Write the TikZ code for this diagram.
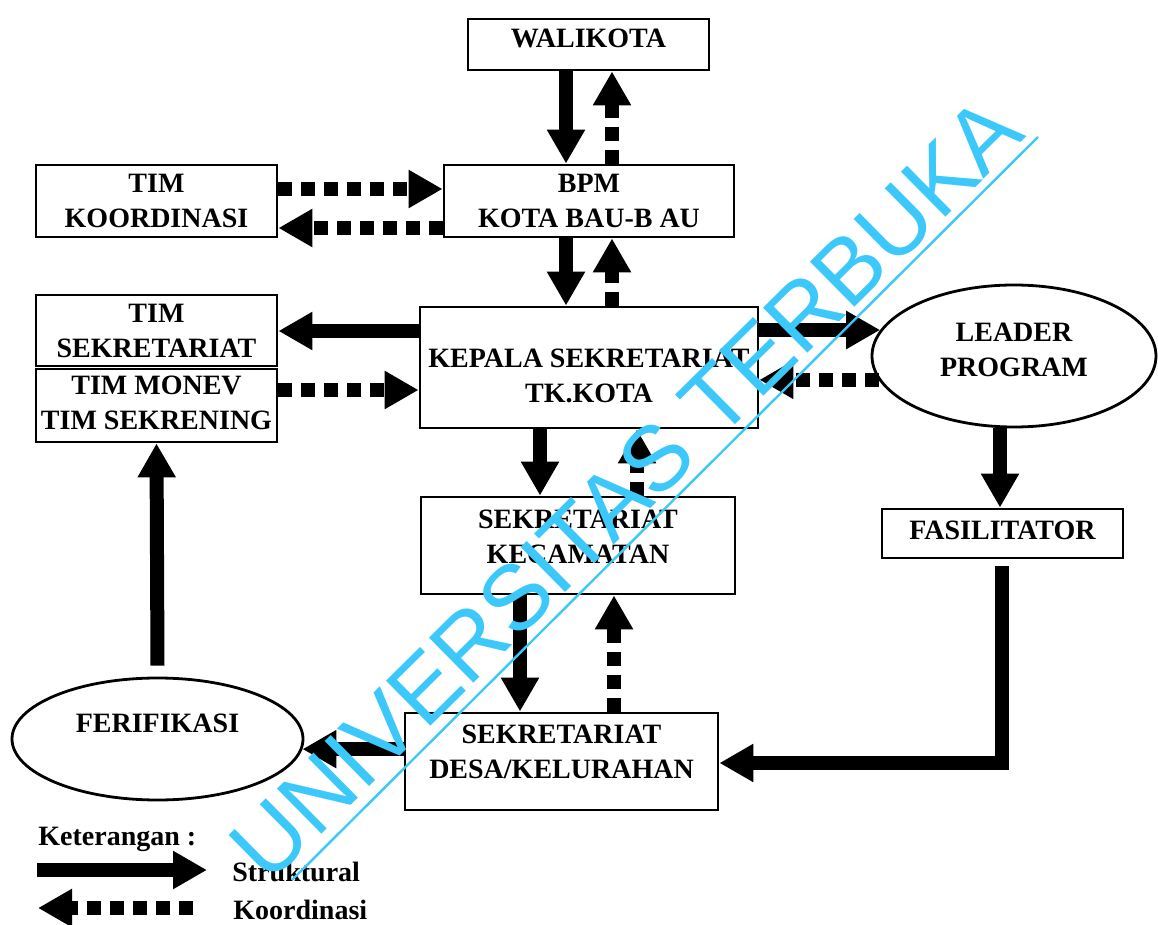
\documentclass[tikz,border=0pt]{standalone}
\usepackage{fontspec}
\setmainfont{Liberation Serif}
\newfontfamily\wmfont{Liberation Sans}
\usetikzlibrary{arrows.meta,shapes.geometric}
\definecolor{wmcol}{RGB}{60,200,250}
\begin{document}
\begin{tikzpicture}[x=0.5pt,y=-0.5pt,
  every node/.style={font=\fontsize{14}{17.5}\selectfont\bfseries},
  box/.style={draw, line width=1.4pt, rectangle, inner sep=0pt, align=center},
  oval/.style={draw, line width=1.4pt, ellipse, inner sep=0pt, align=center},
  lab/.style={align=center, inner sep=0pt},
  struct/.style={line width=7pt, line join=miter, -{Triangle[length=17pt,width=18pt]}},
  coord/.style={line width=7pt, dash pattern=on 7pt off 4.5pt, -{Triangle[length=17pt,width=18pt]}},
  wmtext/.style={text=wmcol, font=\wmfont\fontsize{46}{50}\selectfont, inner sep=0pt, anchor=base west},
]
\useasboundingbox (0,0) rectangle (1158,925);

% boxes
\node[box, minimum width=120.5pt, minimum height=25.5pt,
  label={[lab,yshift=3pt]center:WALIKOTA}] (wal) at (588.5,44.5) {};
\node[box, minimum width=120.5pt, minimum height=36pt] (tk) at (156.5,201) {TIM\\KOORDINASI};
\node[box, minimum width=145pt, minimum height=36pt] (bpm) at (589,201) {BPM\\KOTA BAU-B AU};
\node[box, minimum width=120.5pt, minimum height=35.5pt] (ts) at (156.5,330.5) {TIM\\SEKRETARIAT};
\node[box, minimum width=120.5pt, minimum height=36.5pt,
  label={[lab,yshift=1.5pt]center:{TIM MONEV\\TIM SEKRENING}}] (tm) at (156.5,405.5) {};
\node[box, minimum width=169pt, minimum height=60.5pt,
  label={[lab,yshift=-4pt]center:{KEPALA SEKRETARIAT\\TK.KOTA}}] (kep) at (589,367.5) {};
\node[oval, minimum width=142pt, minimum height=71pt,
  label={[lab,yshift=3pt]center:{LEADER\\PROGRAM}}] (lead) at (1014,356) {};
\node[box, minimum width=120.5pt, minimum height=24.5pt,
  label={[lab,yshift=1.75pt]center:FASILITATOR}] (fas) at (1002.5,533.5) {};
\node[box, minimum width=157pt, minimum height=48.5pt,
  label={[lab,yshift=4.5pt]center:{SEKRETARIAT\\KECAMATAN}}] (kec) at (578,545.5) {};
\node[box, minimum width=156.5pt, minimum height=48.5pt,
  label={[lab,yshift=5pt]center:{SEKRETARIAT\\DESA/KELURAHAN}}] (desa) at (561.5,761.5) {};
\node[oval, minimum width=145.5pt, minimum height=61pt,
  label={[lab,yshift=8pt]center:FERIFIKASI}] (fer) at (157.5,739) {};

% connectors
\draw[struct] (wal.south -| 566,0) -- (bpm.north -| 566,0);
\draw[coord] (bpm.north -| 612,0) -- (wal.south -| 612,0);
\draw[coord] (tk.east |- 0,189) -- (bpm.west |- 0,189);
\draw[coord] (bpm.west |- 0,228) -- (tk.east |- 0,228);
\draw[struct] (bpm.south -| 566,0) -- (kep.north -| 566,0);
\draw[coord] (kep.north -| 612,0) -- (bpm.south -| 612,0);
\draw[struct] (kep.west |- 0,331) -- (ts.east |- 0,331);
\draw[coord] (tm.east |- 0,390) -- (kep.west |- 0,390);
\draw[struct] (kep.east |- lead.169) -- (lead.169);
\draw[coord] (lead.190) -- (kep.east |- lead.190);
\draw[struct] (kep.south -| 540,0) -- (kec.north -| 540,0);
\draw[coord] (kec.north -| 637,0) -- (kep.south -| 637,0);
\draw[struct] (kec.south -| 520,0) -- (desa.north -| 520,0);
\draw[coord] (desa.north -| 614,0) -- (kec.south -| 614,0);
\draw[struct] (lead.south -| 1000,0) -- (fas.north -| 1000,0);
\draw[struct] ([yshift=-3.5pt]fas.south -| 1002,0) |- (desa.east |- 0,763);
\draw[struct] (desa.west |- fer.-4.4) -- (fer.-4.4);
\draw[struct] ([yshift=5.5pt]fer.north) -- (tm.south);

% legend
\node[anchor=west, inner sep=0pt] (ket) at (38,839) {Keterangan :};
\coordinate (ls1) at (37,870);
\coordinate (ls2) at (207,870);
\draw[struct] (ls1) -- (ls2);
\node[anchor=west, inner sep=0pt] (lstr) at (232,872) {Struktural};
\coordinate (lk1) at (193,908);
\coordinate (lk2) at (38,908);
\draw[coord] (lk1) -- (lk2);
\node[anchor=west, inner sep=0pt] (lkoo) at (233,910) {Koordinasi};

% watermark
\node[wmtext, rotate=44.65] (wm) at (268.5,886) {UNIVERSITAS TERBUKA};
\coordinate (wl1) at (292,880);
\coordinate (wl2) at (1038,137);
\draw[wmcol, line width=1.2pt] (wl1) -- (wl2);
\end{tikzpicture}
\end{document}
